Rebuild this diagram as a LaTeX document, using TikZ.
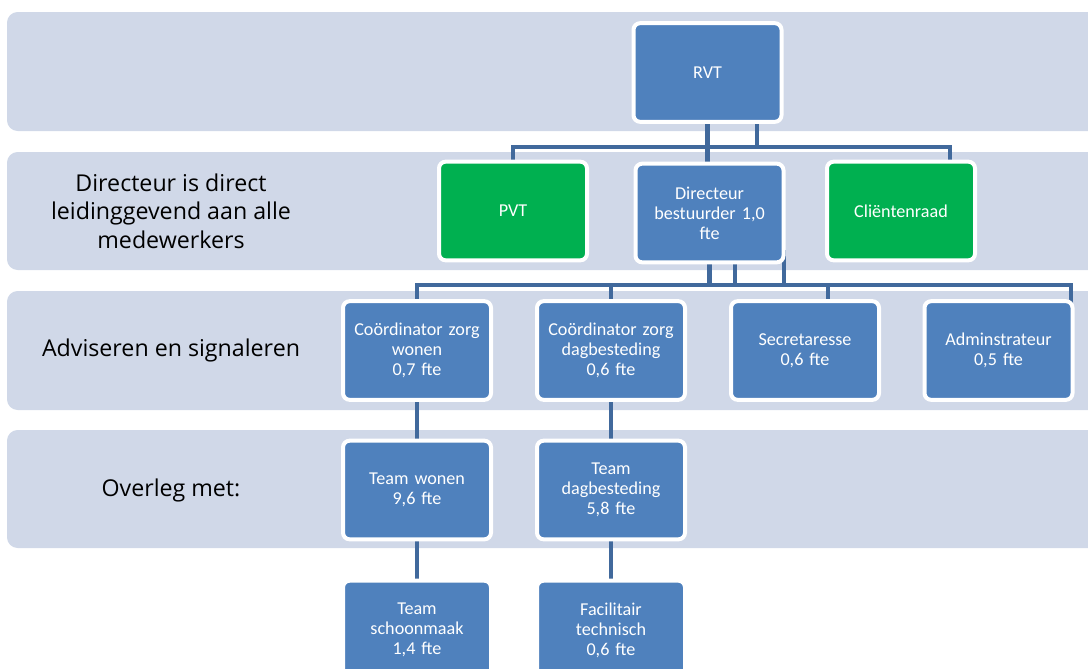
\documentclass[tikz,border=0pt]{standalone}
\usepackage{fontspec}
\setmainfont{Carlito}
\newfontfamily\labelfont{Open Sans}
\definecolor{bandc}{HTML}{D0D8E8}
\definecolor{boxblue}{HTML}{4F81BD}
\definecolor{boxgreen}{HTML}{00B050}
\definecolor{connc}{HTML}{41699C}
\tikzset{
  band/.style={fill=bandc, rounded corners=8pt},
  orgbox/.style={rectangle, rounded corners=5pt, fill=boxblue, draw=white, line width=3pt,
    text=white, align=center, minimum width=111pt, minimum height=74pt, inner sep=2pt,
    text width=106pt, font=\fontsize{13.6pt}{15pt}\selectfont},
  greenbox/.style={orgbox, fill=boxgreen},
  conn/.style={draw=connc, line width=3.4pt},
  bandlabel/.style={align=center, text=black, font=\labelfont\fontsize{17.4pt}{21.4pt}\selectfont}
}
\begin{document}
\begin{tikzpicture}[x=0.75pt, y=-0.75pt]
\useasboundingbox (0,0) rectangle (1088,668);
\clip (0,0) rectangle (1088,668);
% bands
\fill[band] (7,12) rectangle (1110,131);
\fill[band] (7,152) rectangle (1110,270);
\fill[band] (7,291) rectangle (1110,410);
\fill[band] (7,430) rectangle (1110,548);
% band labels
\node[bandlabel] (l2) at (171,211) {Directeur is direct\\leidinggevend aan alle\\medewerkers};
\node[bandlabel] (l3) at (171,350) {Adviseren en signaleren};
\node[bandlabel] (l4) at (171,490) {Overleg met:};
% node positions
\coordinate (rvtc) at (707.5,72.5);
\coordinate (pvtc) at (513,211);
\coordinate (dirc) at (709.5,213);
\coordinate (clic) at (901,211);
\coordinate (cwc) at (417,350.5);
\coordinate (cdc) at (611,350.5);
\coordinate (secc) at (805,350.5);
\coordinate (admc) at (998.5,350.5);
\coordinate (twc) at (417,490);
\coordinate (tdc) at (611,490);
\coordinate (tsc) at (417,630);
\coordinate (ftc) at (611,630);
% helper coordinates for connectors
\coordinate (h1) at (0,147);
\coordinate (h2) at (0,285);
\coordinate (r2) at (757,110);
\coordinate (c1) at (950,170);
\coordinate (d2) at (735,250);
\coordinate (d3) at (784,250);
\coordinate (s1) at (828,310);
\coordinate (a1) at (1071,310);
% connectors
\draw[conn] (rvtc) -- (rvtc |- dirc);
\draw[conn] (r2) -- (r2 |- h1);
\draw[conn] (pvtc) -- (pvtc |- h1) -- (c1 |- h1) -- (c1);
\draw[conn] (dirc) -- (dirc |- h2);
\draw[conn] (d2) -- (d2 |- h2);
\draw[conn] (d3) -- (d3 |- h2);
\draw[conn, line join=miter] (cwc) -- (cwc |- h2) -- (a1 |- h2) -- (a1);
\draw[conn] (cdc) -- (cdc |- h2);
\draw[conn] (s1) -- (s1 |- h2);
\draw[conn] (cwc) -- (tsc);
\draw[conn] (cdc) -- (ftc);
% boxes
\node[orgbox] (rvt) at (rvtc) {RVT};
\node[greenbox] (pvt) at (pvtc) {PVT};
\node[orgbox] (dir) at (dirc) {Directeur\\bestuurder 1,0\\fte};
\node[greenbox] (cli) at (clic) {Cliëntenraad};
\node[orgbox] (cw) at (cwc) {Coördinator zorg\\wonen\\0,7 fte};
\node[orgbox] (cd) at (cdc) {Coördinator zorg\\dagbesteding\\0,6 fte};
\node[orgbox] (sec) at (secc) {Secretaresse\\0,6 fte};
\node[orgbox] (adm) at (admc) {Adminstrateur\\0,5 fte};
\node[orgbox] (tw) at (twc) {Team wonen\\9,6 fte};
\node[orgbox] (td) at (tdc) {Team\\dagbesteding\\5,8 fte};
\node[orgbox] (ts) at (tsc) {Team\\schoonmaak\\1,4 fte};
\node[orgbox] (ft) at (ftc) {Facilitair\\technisch\\0,6 fte};
\end{tikzpicture}
\end{document}
